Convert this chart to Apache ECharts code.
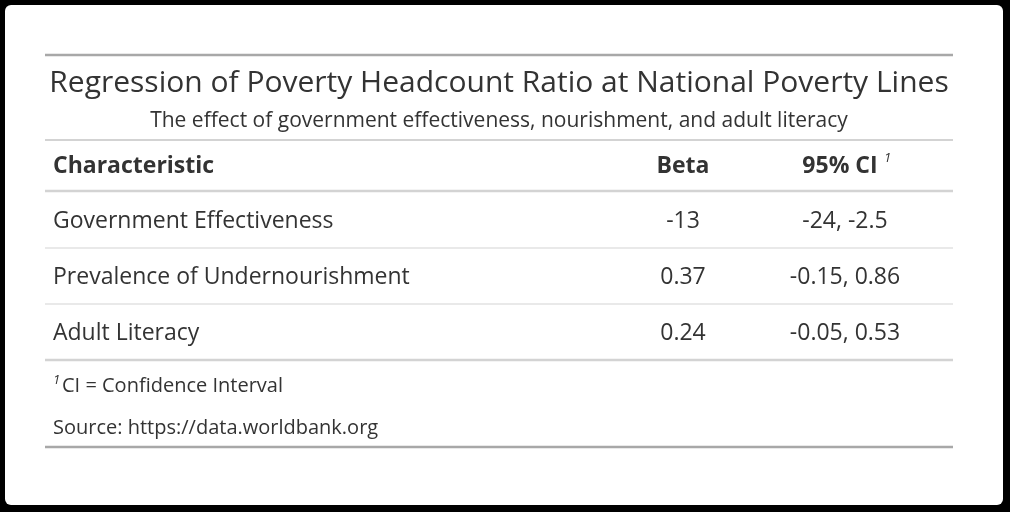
<!DOCTYPE html>
<html>
<head>
<meta charset="utf-8">
<script src="https://cdn.jsdelivr.net/npm/echarts@6/dist/echarts.min.js"></script>
<style>
html,body{margin:0;padding:0;background:#000;}
#main{width:1010px;height:512px;}
</style>
</head>
<body>
<div id="main"></div>
<script>
var title = 'Regression of Poverty Headcount Ratio at National Poverty Lines';
var subtitle = 'The effect of government effectiveness, nourishment, and adult literacy';
var headers = ['Characteristic', 'Beta', '95% CI'];
var characteristics = ['Government Effectiveness', 'Prevalence of Undernourishment', 'Adult Literacy'];
var betas = ['-13', '0.37', '0.24'];
var cis = ['-24, -2.5', '-0.15, 0.86', '-0.05, 0.53'];
var footnote = 'CI = Confidence Interval';
var source = 'Source: https://data.worldbank.org';

var myChart = echarts.init(document.getElementById('main'));
var font = '"Open Sans", "Noto Sans", sans-serif';
var L = 45, R = 953;

function txt(x, y, s, size, opts){
	opts = opts || {};
	return {type:'text', x:x, y:y, style:{text:s, fontSize:size, fontFamily:font,
		fill:opts.fill || '#333', fontWeight:opts.bold ? 'bold' : 'normal',
		fontStyle:opts.italic ? 'italic' : 'normal',
		align:opts.align || 'left', verticalAlign:'middle'}};
}
function hline(y, w, c){
	return {type:'line', shape:{x1:L, y1:y, x2:R, y2:y}, style:{stroke:c, lineWidth:w}};
}

var els = [];
els.push({type:'rect', shape:{x:5, y:5, width:998, height:500, r:6}, style:{fill:'#fff'}});
els.push(hline(55, 2.5, '#a8a8a8'));
els.push(txt(499, 83, title, 30, {align:'center'}));
els.push(txt(499, 121, subtitle, 21, {align:'center'}));
els.push(hline(140, 2, '#d3d3d3'));
els.push(txt(53, 166, headers[0], 23, {bold:true}));
els.push(txt(683, 166, headers[1], 23, {bold:true, align:'center'}));
els.push(txt(840, 166, headers[2], 23, {bold:true, align:'center'}));
els.push(txt(884, 158, '1', 13, {italic:true}));
els.push(hline(191, 2.5, '#d3d3d3'));
for (var i = 0; i < characteristics.length; i++) {
	var y = 221 + i * 56;
	els.push(txt(53, y, characteristics[i], 23));
	els.push(txt(683, y, betas[i], 23, {align:'center'}));
	els.push(txt(845, y, cis[i], 23, {align:'center'}));
	els.push(hline(y + 27, i == characteristics.length - 1 ? 2.5 : 1, '#d3d3d3'));
}
els.push(txt(53, 380, '1', 13, {italic:true}));
els.push(txt(62, 386, footnote, 20));
els.push(txt(53, 428, source, 20));
els.push(hline(447, 2.5, '#a8a8a8'));

var option = {backgroundColor:'#000', graphic:{elements:els}};
myChart.setOption(option, true);
</script>
</body>
</html>
